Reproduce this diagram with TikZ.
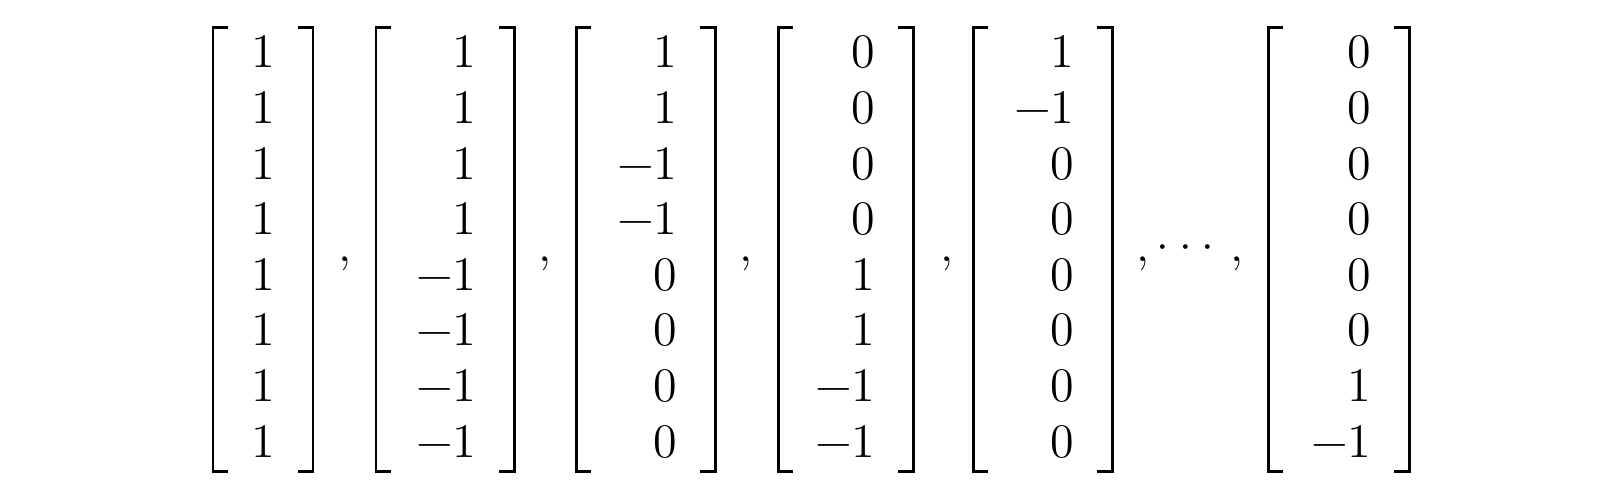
\documentclass[tikz,border=0pt]{standalone}
\usepackage{fontspec}
\setmainfont{Latin Modern Roman}
\tikzset{
  entry/.style={anchor=base east, inner sep=0pt, font=\fontsize{13.7}{16}\selectfont},
  punct/.style={anchor=base, inner sep=0pt, font=\fontsize{13.7}{16}\selectfont},
  bracket/.style={draw=black, line width=0.85pt}
}
\def\bracktop{4.61}
\def\brackbot{0.17}

\begin{document}
\begin{tikzpicture}
  \useasboundingbox (0,0) rectangle (16.08,4.89);

  % one column vector per pass: number / left bracket / right bracket / entries
  \foreach \m/\xl/\xr/\vals in {
      1/2.13/3.13/{1,1,1,1,1,1,1,1},
      2/3.76/5.14/{1,1,1,1,−1,−1,−1,−1},
      3/5.76/7.15/{1,1,−1,−1,0,0,0,0},
      4/7.78/9.13/{0,0,0,0,1,1,−1,−1},
      5/9.73/11.12/{1,−1,0,0,0,0,0,0},
      6/12.68/14.09/{0,0,0,0,0,0,1,−1}}{
    \draw[bracket] (\xl+0.15,\bracktop) -- (\xl,\bracktop) -- (\xl,\brackbot) -- (\xl+0.15,\brackbot);
    \draw[bracket] (\xr-0.15,\bracktop) -- (\xr,\bracktop) -- (\xr,\brackbot) -- (\xr-0.15,\brackbot);
    \foreach \v [count=\r] in \vals
      \node[entry] (v\m\r) at (\xr-0.37,{4.21-(\r-1)*0.556}) {\v};
  }

  % separators
  \node[punct] (c1) at (3.45,2.27) {,};
  \node[punct] (c2) at (5.45,2.27) {,};
  \node[punct] (c3) at (7.46,2.27) {,};
  \node[punct] (c4) at (9.47,2.27) {,};
  \node[punct] (c5) at (11.43,2.27) {,};
  \foreach \x [count=\i] in {11.63,11.86,12.08}
    \node[punct] (d\i) at (\x,2.25) {·};
  \node[punct] (c6) at (12.37,2.27) {,};
\end{tikzpicture}
\end{document}
